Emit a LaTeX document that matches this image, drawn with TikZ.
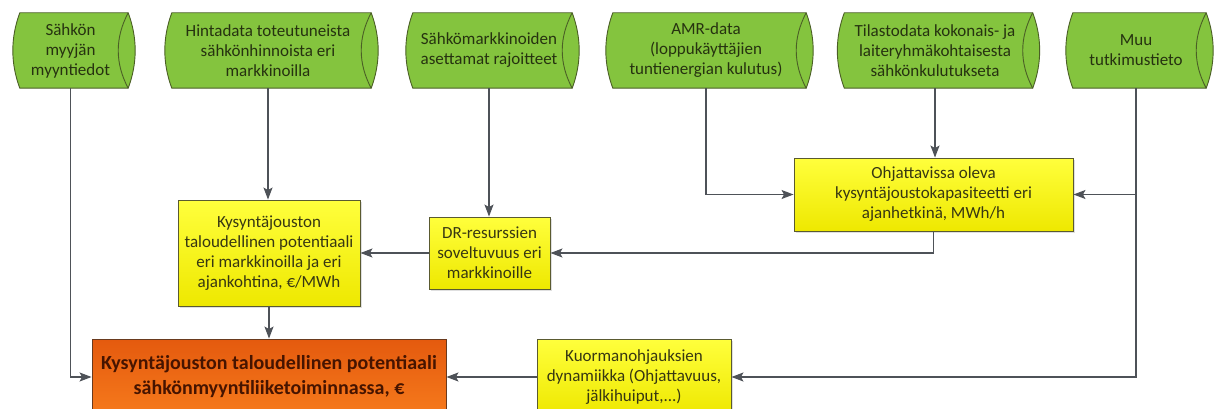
\documentclass[tikz,border=0pt]{standalone}
\usepackage{fontspec}
\setmainfont{Carlito}
\usetikzlibrary{arrows.meta,calc,backgrounds,shadows}
\definecolor{gfill}{RGB}{132,196,62}
\definecolor{gline}{RGB}{75,95,38}
\definecolor{gtext}{RGB}{38,50,16}
\definecolor{ytop}{RGB}{255,255,60}
\definecolor{ybot}{RGB}{238,232,0}
\definecolor{yline}{RGB}{90,90,48}
\definecolor{ytext}{RGB}{55,55,18}
\definecolor{otop}{RGB}{228,90,14}
\definecolor{obot}{RGB}{246,122,28}
\definecolor{oline}{RGB}{105,58,30}
\definecolor{otext}{RGB}{70,20,0}
\definecolor{lc}{RGB}{78,82,88}
\tikzset{
  ds/.style={rectangle, inner sep=0pt, minimum height=75pt, align=center,
    text=gtext, font=\fontsize{17}{20}\selectfont},
  dsline/.style={draw=gline, line width=0.9pt, fill=gfill},
  ybox/.style={rectangle, draw=yline, line width=0.9pt, top color=ytop, bottom color=ybot,
    align=center, text=ytext, inner sep=0pt, font=\fontsize{17}{20}\selectfont,
    drop shadow={shadow xshift=1.5pt, shadow yshift=-1.5pt, opacity=0.25}},
  obox/.style={rectangle, draw=oline, line width=0.9pt, top color=otop, bottom color=obot,
    align=center, text=otext, inner sep=0pt, font=\fontsize{20}{25}\selectfont\bfseries},
  conn/.style={draw=lc, line width=1.2pt, -{Stealth[length=12pt,width=9pt,inset=2.5pt]}}
}
\begin{document}
\begin{tikzpicture}[x=1pt,y=-1pt]
\useasboundingbox (0,0) rectangle (1217,409);
% data stores
\node[ds, minimum width=115pt] (s1) at (70.5,50.5) {Sähkön\\myyjän\\myyntiedot};
\node[ds, minimum width=206pt] (s2) at (268,50.5) {Hintadata toteutuneista\\sähkönhinnoista eri\\markkinoilla};
\node[ds, minimum width=166pt] (s3) at (489,50.5) {Sähkömarkkinoiden\\asettamat rajoitteet};
\node[ds, minimum width=200pt] (s4) at (706,50.5) {AMR-data\\(loppukäyttäjien\\tuntienergian kulutus)};
\node[ds, minimum width=195pt] (s5) at (935,50.5) {Tilastodata kokonais- ja\\laiteryhmäkohtaisesta\\sähkönkulutukseta};
\node[ds, minimum width=140pt] (s6) at (1136,50.5) {Muu\\tutkimustieto};
\begin{scope}[on background layer]
\fill[white] (0,0) rectangle (1217,409);
\foreach \n in {s1,s2,s3,s4,s5,s6}{
  \draw[dsline] ($(\n.north west)+(7,0)$) -- (\n.north east)
     .. controls +(9.3,25) and +(9.3,-25) .. (\n.south east)
     -- ($(\n.south west)+(7,0)$)
     .. controls +(-9.3,-25) and +(-9.3,25) .. ($(\n.north west)+(7,0)$) -- cycle;
  \draw[draw=gline, line width=0.9pt] (\n.north east)
     .. controls +(-13.3,25) and +(-13.3,-25) .. (\n.south east);
}
\end{scope}
% process boxes
\node[ybox, minimum width=182pt, minimum height=106pt] (K) at (269,253)
  {Kysyntäjouston\\taloudellinen potentiaali\\eri markkinoilla ja eri\\ajankohtina, €/MWh};
\node[ybox, minimum width=121pt, minimum height=72pt] (DR) at (489.5,253)
  {DR-resurssien\\soveltuvuus eri\\markkinoille};
\node[ybox, minimum width=279pt, minimum height=73pt] (OH) at (933.5,194.5)
  {Ohjattavissa oleva\\kysyntäjoustokapasiteetti eri\\ajanhetkinä, MWh/h};
\node[obox, minimum width=354pt, minimum height=76pt] (O) at (269,377)
  {Kysyntäjouston taloudellinen potentiaali\\sähkönmyyntiliiketoiminnassa, €};
\node[ybox, minimum width=194pt, minimum height=76pt] (KU) at (634,377)
  {Kuormanohjauksien\\dynamiikka (Ohjattavuus,\\jälkihuiput,...)};
% connectors
\draw[conn] (s1.south) |- (O.west);
\draw[conn] (s2.south) -- (s2.south |- K.north);
\draw[conn] (s3.south) -- (s3.south |- DR.north);
\draw[conn] (s4.south) |- (OH.west);
\draw[conn] (s5.south) -- (s5.south |- OH.north);
\draw[conn] (s6.south) |- (OH.east);
\draw[conn] (s6.south) |- (KU.east);
\draw[conn] (OH.south) |- (DR.east);
\draw[conn] (DR.west) -- (K.east);
\draw[conn] (K.south) -- (O.north);
\draw[conn] (KU.west) -- (O.east);
\end{tikzpicture}
\end{document}
